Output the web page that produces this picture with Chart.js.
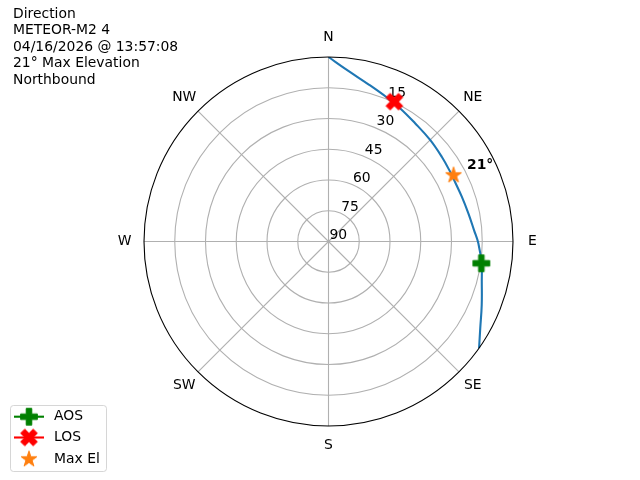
<!DOCTYPE html>
<html>
<head>
<meta charset="utf-8">
<script src="https://cdn.jsdelivr.net/npm/chart.js@4"></script>
<style>
  html, body { margin: 0; padding: 0; background: #fff; }
  #wrap { width: 640px; height: 480px; }
</style>
</head>
<body>
<div id="wrap"><canvas id="sky"></canvas></div>
<script>
// Pass track, azimuth / elevation in degrees, in pass order (SE -> N)
const trackAz = [125.3, 119.8, 112.5, 104.7, 98.1, 90.7, 85.5, 78.6, 71.4, 64.7, 60.1, 53.2, 45.0, 36.2, 28.2, 21.8, 14.1, 6.5, 0];
const trackEl = [0, 4.7, 9.1, 12.7, 14.6, 16.9, 18.8, 20.4, 21.4, 21.8, 21.6, 21.0, 19.9, 18.5, 16.2, 14.1, 10.8, 6.1, 0];

// Event markers
const markerNames = ["AOS", "LOS", "Max El"];
const markerAz = [98.1, 25.2, 62.1];
const markerEl = [14.7, 14.6, 21];
const markerColors = ["#008000", "#ff0000", "#ff7f0e"];

// Axis labels
const elTicks = [15, 30, 45, 60, 75, 90];
const dirLabels = ["N", "NE", "E", "SE", "S", "SW", "W", "NW"];
const titleLines = ["Direction", "METEOR-M2 4", "04/16/2026 @ 13:57:08", "21\u00b0 Max Elevation", "Northbound"];
const maxLabel = "21\u00b0";

const FONT = "13.9px 'DejaVu Sans'";

// az/el -> x/y, zenith in the middle, north up
function toXY(az, el) {
  const a = az * Math.PI / 180;
  return { x: (90 - el) * Math.sin(a), y: (90 - el) * Math.cos(a) };
}

// filled marker shapes like matplotlib P, X and *
function makeMarker(shape, color) {
  const size = 16.7;
  const c = document.createElement("canvas");
  c.width = 22; c.height = 22;
  const ctx = c.getContext("2d");
  ctx.translate(11, 11);
  let pts;
  if (shape === "plus") {
    pts = [[-1,-3],[-1,-1],[-3,-1],[-3,1],[-1,1],[-1,3],[1,3],[1,1],[3,1],[3,-1],[1,-1],[1,-3]].map(p => [p[0] / 6, p[1] / 6]);
  } else if (shape === "x") {
    pts = [[-1,-2],[0,-1],[1,-2],[2,-1],[1,0],[2,1],[1,2],[0,1],[-1,2],[-2,1],[-1,0],[-2,-1]].map(p => [p[0] / 4, p[1] / 4]);
  } else {
    pts = [];
    for (let i = 0; i < 10; i++) {
      const a = i * Math.PI / 5;
      const r = i % 2 ? 0.5 * 0.381966 : 0.5;
      pts.push([r * Math.sin(a), -r * Math.cos(a)]);
    }
  }
  ctx.beginPath();
  pts.forEach((p, i) => i ? ctx.lineTo(p[0] * size, p[1] * size) : ctx.moveTo(p[0] * size, p[1] * size));
  ctx.closePath();
  ctx.fillStyle = color;
  ctx.fill();
  ctx.strokeStyle = color;
  ctx.lineWidth = 1;
  ctx.stroke();
  return c;
}

const markerImgs = [makeMarker("plus", markerColors[0]), makeMarker("x", markerColors[1]), makeMarker("star", markerColors[2])];
const legendLine = [true, true, false];

const datasets = markerNames.map((name, i) => ({
  label: name,
  data: [toXY(markerAz[i], markerEl[i])],
  pointStyle: markerImgs[i],
  pointRadius: 9,
  showLine: false,
  order: 0
}));
datasets.push({
  label: "track",
  data: trackAz.map((az, i) => toXY(az, trackEl[i])),
  showLine: true,
  borderColor: "#1f77b4",
  borderWidth: 2.1,
  pointRadius: 0,
  tension: 0.4,
  order: 1
});

function polarPos(chart, az, rPix) {
  const xs = chart.scales.x;
  const ys = chart.scales.y;
  const cx = xs.getPixelForValue(0), cy = ys.getPixelForValue(0);
  const a = az * Math.PI / 180;
  return { x: cx + rPix * Math.sin(a), y: cy - rPix * Math.cos(a) };
}

const polarGrid = {
  id: "polarGrid",
  beforeDatasetsDraw(chart) {
    const ctx = chart.ctx;
    const xs = chart.scales.x, ys = chart.scales.y;
    const cx = xs.getPixelForValue(0), cy = ys.getPixelForValue(0);
    const px = v => xs.getPixelForValue(v) - cx;
    const R = px(90);
    ctx.save();
    ctx.strokeStyle = "#b0b0b0";
    ctx.lineWidth = 1.1;
    elTicks.forEach(t => {
      if (t >= 90) return;
      ctx.beginPath();
      ctx.arc(cx, cy, px(90 - t), 0, Math.PI * 2);
      ctx.stroke();
    });
    for (let i = 0; i < 8; i++) {
      const p = polarPos(chart, i * 45, R);
      ctx.beginPath();
      ctx.moveTo(cx, cy);
      ctx.lineTo(p.x, p.y);
      ctx.stroke();
    }
    // elevation tick labels along 22.5 deg
    ctx.fillStyle = "#000";
    ctx.font = FONT;
    ctx.textAlign = "left";
    ctx.textBaseline = "alphabetic";
    elTicks.forEach(t => {
      const p = polarPos(chart, 22.5, px(90 - t));
      ctx.fillText(String(t), p.x + 1, p.y - 2.5);
    });
    ctx.restore();
  },
  afterDatasetsDraw(chart) {
    const ctx = chart.ctx;
    const xs = chart.scales.x, ys = chart.scales.y;
    const cx = xs.getPixelForValue(0), cy = ys.getPixelForValue(0);
    const R = xs.getPixelForValue(90) - cx;
    ctx.save();
    ctx.strokeStyle = "#000";
    ctx.lineWidth = 1.1;
    ctx.beginPath();
    ctx.arc(cx, cy, R, 0, Math.PI * 2);
    ctx.stroke();

    ctx.fillStyle = "#000";
    ctx.font = FONT;
    ctx.textAlign = "center";
    ctx.textBaseline = "middle";
    dirLabels.forEach((d, i) => {
      const p = polarPos(chart, i * 45, R + 19.5);
      ctx.fillText(d, p.x, p.y);
    });

    // max elevation note next to the star
    const star = chart.getDatasetMeta(2).data[0];
    ctx.font = "bold " + FONT;
    ctx.textAlign = "left";
    ctx.textBaseline = "alphabetic";
    ctx.fillText(maxLabel, star.x + 13.5, star.y - 6);

    // title block
    ctx.font = FONT;
    titleLines.forEach((line, i) => ctx.fillText(line, 13, 17.5 + i * 16.5));

    // legend
    ctx.beginPath();
    ctx.roundRect(10.5, 405.5, 96, 66, 3);
    ctx.fillStyle = "rgba(255,255,255,0.8)";
    ctx.fill();
    ctx.strokeStyle = "rgba(204,204,204,0.8)";
    ctx.lineWidth = 1;
    ctx.stroke();
    const rows = [416.7, 437.5, 459.3];
    markerNames.forEach((name, i) => {
      const y = rows[i];
      if (legendLine[i]) {
        ctx.strokeStyle = markerColors[i];
        ctx.lineWidth = 2.1;
        ctx.beginPath();
        ctx.moveTo(14, y);
        ctx.lineTo(44, y);
        ctx.stroke();
      }
      const img = markerImgs[i];
      ctx.drawImage(img, 29 - img.width / 2, y - img.height / 2);
      ctx.fillStyle = "#000";
      ctx.textBaseline = "middle";
      ctx.fillText(name, 54, y);
    });
    ctx.restore();
  }
};

new Chart("sky", {
  type: "scatter",
  data: { datasets: datasets },
  options: {
    responsive: true,
    maintainAspectRatio: false,
    animation: false,
    events: [],
    layout: { padding: { left: 144, right: 127, top: 57, bottom: 54 } },
    scales: {
      x: { type: "linear", min: -90, max: 90, display: false },
      y: { type: "linear", min: -90, max: 90, display: false }
    },
    plugins: {
      legend: { display: false },
      title: { display: false },
      tooltip: { enabled: false }
    }
  },
  plugins: [polarGrid]
});
</script>
</body>
</html>
